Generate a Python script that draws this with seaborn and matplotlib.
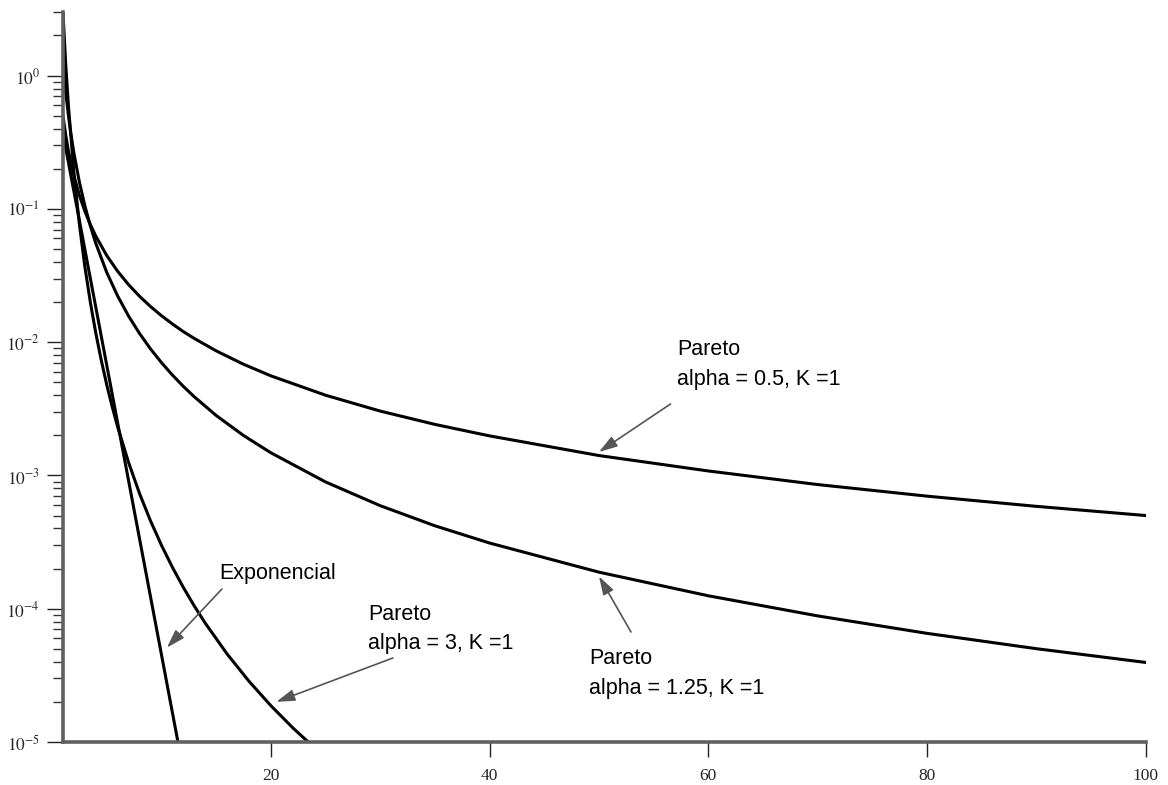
import matplotlib
matplotlib.use("Agg")
import matplotlib.pyplot as plt
import matplotlib.ticker as mticker
import seaborn as sns
import pandas as pd

# values
x_pareto = [1, 1.25, 1.5, 1.75, 2, 2.5, 3, 3.5, 4, 5, 6, 7, 8, 9, 10, 11, 12, 13,
            15, 17.5, 20, 25, 30, 35, 40, 50, 60, 70, 80, 90, 100]
y_pareto_05 = [0.5, 0.358, 0.272, 0.216, 0.177, 0.1265, 0.0962, 0.0764, 0.0625,
               0.0447, 0.0340, 0.0270, 0.0221, 0.01852, 0.0158, 0.01371, 0.0120,
               0.01067, 0.00861, 0.00683, 0.00559, 0.0040, 0.00304, 0.002415,
               0.00198, 0.00141, 0.00108, 0.000854, 0.000699, 0.000586, 0.0005]
y_pareto_125 = [1.25, 0.7566, 0.502, 0.355, 0.263, 0.159, 0.1056, 0.0746, 0.0552,
                0.0334, 0.0222, 0.01568, 0.01162, 0.00891, 0.00703, 0.00567,
                0.00466, 0.003895, 0.00282, 0.001995, 0.00148, 0.000894, 0.000593,
                0.000419, 0.000311, 0.000188, 0.000125, 8.83e-5, 6.53e-5, 5.01e-5,
                3.95e-5]

x_pareto_3 = [1, 1.25, 1.5, 2, 2.5, 3, 3.5, 4, 4.5, 5, 5.5, 6, 7, 8, 9, 10, 11, 12,
              13, 14, 16, 18, 20, 22, 24]
y_pareto_3 = [3.0, 1.229, 0.593, 0.1875, 0.0768, 0.0370, 0.0200, 0.01172, 0.00732,
              0.0048, 0.00328, 0.002315, 0.00125, 0.000732, 0.000457, 0.0003,
              0.000205, 0.0001447, 0.000105, 7.81e-5, 4.58e-5, 2.86e-5, 1.875e-5,
              1.28e-5, 9.04e-6]

x_expo = [1, 2, 3, 4, 5, 6, 7, 8, 9, 10, 11, 12]
y_expo = [0.3679, 0.1353, 0.0498, 0.01832, 0.006738, 0.002479, 0.000912, 0.000335,
          0.0001234, 4.54e-5, 1.67e-5, 6.14e-6]

x_ticks = [20, 40, 60, 80, 100]
y_ticks = [1e-5, 1e-4, 1e-3, 1e-2, 1e-1, 1e0]
y_tick_labels = [r"$10^{-5}$", r"$10^{-4}$", r"$10^{-3}$", r"$10^{-2}$",
                 r"$10^{-1}$", r"$10^{0}$"]

curves = pd.concat([
    pd.DataFrame({"x": x_pareto, "y": y_pareto_05, "curve": "p05"}),
    pd.DataFrame({"x": x_pareto, "y": y_pareto_125, "curve": "p125"}),
    pd.DataFrame({"x": x_pareto_3, "y": y_pareto_3, "curve": "p3"}),
    pd.DataFrame({"x": x_expo, "y": y_expo, "curve": "expo"}),
])

sns.set_style("ticks")
plt.rcParams["font.family"] = ["Liberation Sans", "DejaVu Sans"]
plt.rcParams["mathtext.fontset"] = "stix"

fig = plt.figure(figsize=(11.68, 7.85), dpi=100)
ax = fig.add_axes([0.0539, 0.0548, 0.9272, 0.9299])

sns.lineplot(data=curves, x="x", y="y", hue="curve", units="curve",
             estimator=None, sort=False, ax=ax, legend=False,
             palette=["black"] * 4, linewidth=2.2)

ax.set_yscale("log")
ax.set_xlim(1, 100)
ax.set_ylim(1e-5, 3.0)
ax.set_xlabel("")
ax.set_ylabel("")

ax.set_xticks(x_ticks)
ax.set_xticklabels([str(t) for t in x_ticks], fontfamily="Liberation Serif",
                   fontsize=12.5)
ax.xaxis.set_minor_locator(mticker.NullLocator())
ax.set_yticks(y_ticks)
ax.set_yticklabels(y_tick_labels, fontsize=12.5)
ax.yaxis.set_minor_locator(mticker.LogLocator(base=10, subs=range(2, 10),
                                              numticks=20))
ax.yaxis.set_minor_formatter(mticker.NullFormatter())

ax.tick_params(axis="x", which="major", direction="out", length=11, width=1,
               color="#222222", pad=8)
ax.tick_params(axis="y", which="major", direction="out", length=11.5, width=1,
               color="#222222", pad=5)
ax.tick_params(axis="y", which="minor", direction="out", length=7, width=1,
               color="#333333")

sns.despine(ax=ax)
for side in ["left", "bottom"]:
    ax.spines[side].set_color("#606060")
    ax.spines[side].set_linewidth(2.6)

# annotations: (text lines, text left/baselines in axes fraction, arrow tail, arrow tip)
notes = [
    (["Pareto", "alpha = 0.5, K =1"], 0.567, [0.530, 0.489], (0.561, 0.463), (50, 1.5e-3)),
    (["Pareto", "alpha = 1.25, K =1"], 0.4857, [0.1068, 0.0658], (0.5245, 0.1507), (50, 1.75e-4)),
    (["Exponencial"], 0.144, [0.2233], (0.1468, 0.2096), (10.5, 5.1e-5)),
    (["Pareto", "alpha = 3, K =1"], 0.2816, [0.1671, 0.1274], (0.3047, 0.1151), (20.5, 2.0e-5)),
]
for lines, tx, bases, tail, tip in notes:
    for line, by in zip(lines, bases):
        ax.text(tx, by, line, transform=ax.transAxes, fontsize=15.5,
                ha="left", va="baseline", color="black")
    ax.annotate("", xy=tip, xycoords="data", xytext=tail,
                textcoords="axes fraction",
                arrowprops=dict(arrowstyle="-|>,head_length=0.8,head_width=0.25",
                                mutation_scale=14, color="#555555", lw=1.2,
                                shrinkA=0, shrinkB=0))

fig.savefig("out.png", dpi=100)
